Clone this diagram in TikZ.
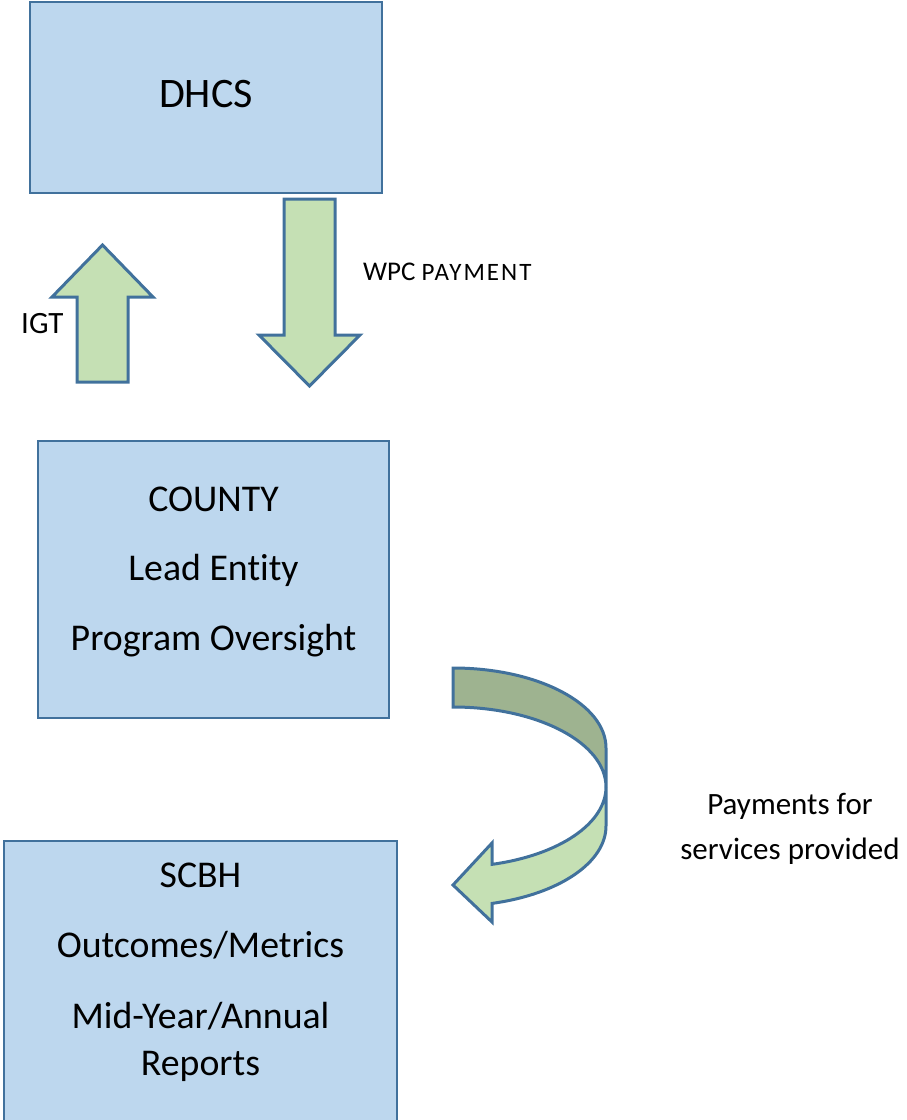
\documentclass[tikz,border=0pt]{standalone}
\usepackage{fontspec}
\setmainfont{Carlito}[Ligatures = NoCommon]

\definecolor{boxfill}{HTML}{BDD7EE}
\definecolor{boxline}{HTML}{41719C}
\definecolor{arrowfill}{HTML}{C5E0B4}
\definecolor{arrowback}{HTML}{9EB390}

\begin{document}
\begin{tikzpicture}[x = 1pt, y = -1pt,
	panel/.style = {draw = boxline, fill = boxfill, line width = 2.8pt, rectangle, inner sep = 0pt},
	blockarrow/.style = {draw = boxline, fill = arrowfill, line width = 3pt},
	paneltext/.style = {anchor = base, inner sep = 0pt, font = \fontsize{37.8}{44}\selectfont},
	flowtext/.style = {inner sep = 0pt}]

	% Definitions
	
	\def\cx{453}		% Left end of the curved arrow
	\def\rx{153}		% Ellipse radii of the curved arrow
	\def\ry{80}
	\def\hk{-75.23}		% Angle where the band meets the head
	
	\clip (0, 0) rectangle (906, 1120);
	
	% Draw boxes
	
	\node [panel, minimum width = 352pt, minimum height = 191pt] (dhcs) at (206, 97.5) {};
	\node [panel, minimum width = 351pt, minimum height = 277pt] (county) at (213.5, 579.5) {};
	\node [panel, minimum width = 393pt, minimum height = 300pt] (scbh) at (200.5, 991) {};
	
	% Box texts
	
	\node [paneltext, font = \fontsize{42}{48}\selectfont] (dhcsname) at (206, 107) {DHCS};
	
	\foreach \t [count = \i] in {COUNTY, Lead Entity, Program Oversight}
		\node [paneltext] (county\i) at (213.5, {511 + 69.5 * (\i - 1)}) {\t};
	
	\node [paneltext] (scbh1) at (200.5, 887) {SCBH};
	\node [paneltext] (scbh2) at (200.5, 957) {Outcomes/Metrics};
	\node [paneltext] (scbh3) at (200.5, 1028) {Mid-Year/Annual};
	\node [paneltext] (scbh4) at (200.5, 1075) {Reports};
	
	% Draw block arrows
	
	\draw [blockarrow] (77, 382) -- (77, 297) -- (52, 297) -- (102.5, 245) -- (153, 297) -- (128, 297) -- (128, 382) -- cycle;
	\draw [blockarrow] (284, 199) -- (335, 199) -- (335, 335) -- (360, 335) -- (309.5, 386) -- (259, 335) -- (284, 335) -- cycle;
	
	% Draw curved arrow (back face, then front face)
	
	\draw [blockarrow, fill = arrowback] (\cx, 668)
		arc [start angle = 90, end angle = 0, x radius = \rx pt, y radius = \ry pt]
		-- (\cx + \rx, 787)
		arc [start angle = 0, end angle = 90, x radius = \rx pt, y radius = \ry pt]
		-- cycle;
	\draw [blockarrow] (\cx + \rx, 787)
		arc [start angle = 0, end angle = \hk, x radius = \rx pt, y radius = \ry pt]
		-- (492, 843) -- (\cx, 885) -- (492, 922) -- (492, 903.4)
		arc [start angle = \hk, end angle = 0, x radius = \rx pt, y radius = \ry pt]
		-- cycle;
	
	% Labels
	
	\node [flowtext, anchor = base west, font = \fontsize{31}{36}\selectfont] (igt) at (21, 333) {IGT};
	\node [flowtext, anchor = base west] (wpc) at (363, 280)
		{\fontsize{27}{30}\selectfont WPC {\fontsize{25}{30}\selectfont\addfontfeature{LetterSpace = 8}PAYMENT}};
	\node [flowtext, anchor = base, font = \fontsize{31}{36}\selectfont] (pay1) at (790, 814) {Payments for};
	\node [flowtext, anchor = base, font = \fontsize{31}{36}\selectfont] (pay2) at (790, 859) {services provided};
	
\end{tikzpicture}
\end{document}
